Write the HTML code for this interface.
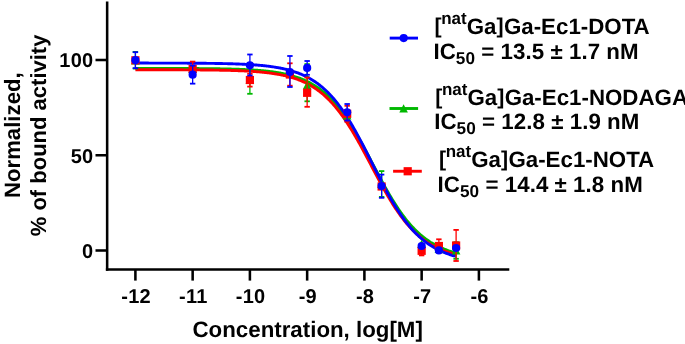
<!DOCTYPE html>
<html lang="en"><head><meta charset="utf-8"><title>IC50 curves</title>
<style>html,body{margin:0;padding:0;background:#fff}body{width:685px;height:344px;overflow:hidden}svg{display:block}svg text{font-family:"Liberation Sans",Arial,Helvetica,sans-serif;font-weight:bold;fill:#000}</style></head>
<body>
<svg width="685" height="344" viewBox="0 0 685 344" text-rendering="geometricPrecision">
<rect width="685" height="344" fill="#fff"/>
<polyline points="135.40,68.40 136.20,68.40 137.01,68.40 137.81,68.40 138.62,68.40 139.42,68.40 140.22,68.40 141.03,68.40 141.83,68.40 142.63,68.40 143.44,68.40 144.24,68.40 145.05,68.40 145.85,68.40 146.65,68.41 147.46,68.41 148.26,68.41 149.06,68.41 149.87,68.41 150.67,68.41 151.48,68.41 152.28,68.41 153.08,68.41 153.89,68.41 154.69,68.41 155.49,68.42 156.30,68.42 157.10,68.42 157.91,68.42 158.71,68.42 159.51,68.42 160.32,68.42 161.12,68.42 161.93,68.43 162.73,68.43 163.53,68.43 164.34,68.43 165.14,68.43 165.94,68.43 166.75,68.43 167.55,68.44 168.36,68.44 169.16,68.44 169.96,68.44 170.77,68.44 171.57,68.45 172.37,68.45 173.18,68.45 173.98,68.45 174.79,68.45 175.59,68.46 176.39,68.46 177.20,68.46 178.00,68.46 178.80,68.47 179.61,68.47 180.41,68.47 181.22,68.48 182.02,68.48 182.82,68.48 183.63,68.48 184.43,68.49 185.24,68.49 186.04,68.49 186.84,68.50 187.65,68.50 188.45,68.51 189.25,68.51 190.06,68.51 190.86,68.52 191.67,68.52 192.47,68.53 193.27,68.53 194.08,68.54 194.88,68.54 195.68,68.55 196.49,68.55 197.29,68.56 198.10,68.56 198.90,68.57 199.70,68.58 200.51,68.58 201.31,68.59 202.12,68.60 202.92,68.60 203.72,68.61 204.53,68.62 205.33,68.63 206.13,68.63 206.94,68.64 207.74,68.65 208.55,68.66 209.35,68.67 210.15,68.68 210.96,68.69 211.76,68.70 212.56,68.71 213.37,68.72 214.17,68.73 214.98,68.74 215.78,68.75 216.58,68.76 217.39,68.78 218.19,68.79 218.99,68.80 219.80,68.81 220.60,68.83 221.41,68.84 222.21,68.86 223.01,68.87 223.82,68.89 224.62,68.91 225.43,68.92 226.23,68.94 227.03,68.96 227.84,68.98 228.64,69.00 229.44,69.02 230.25,69.04 231.05,69.06 231.86,69.08 232.66,69.10 233.46,69.13 234.27,69.15 235.07,69.18 235.87,69.20 236.68,69.23 237.48,69.25 238.29,69.28 239.09,69.31 239.89,69.34 240.70,69.37 241.50,69.41 242.30,69.44 243.11,69.47 243.91,69.51 244.72,69.54 245.52,69.58 246.32,69.62 247.13,69.66 247.93,69.70 248.74,69.74 249.54,69.79 250.34,69.83 251.15,69.88 251.95,69.93 252.75,69.98 253.56,70.03 254.36,70.08 255.17,70.14 255.97,70.20 256.77,70.25 257.58,70.31 258.38,70.38 259.18,70.44 259.99,70.51 260.79,70.57 261.60,70.65 262.40,70.72 263.20,70.79 264.01,70.87 264.81,70.95 265.61,71.03 266.42,71.12 267.22,71.21 268.03,71.30 268.83,71.39 269.63,71.49 270.44,71.58 271.24,71.69 272.05,71.79 272.85,71.90 273.65,72.01 274.46,72.13 275.26,72.25 276.06,72.37 276.87,72.50 277.67,72.63 278.48,72.76 279.28,72.90 280.08,73.05 280.89,73.20 281.69,73.35 282.49,73.50 283.30,73.67 284.10,73.83 284.91,74.01 285.71,74.18 286.51,74.37 287.32,74.55 288.12,74.75 288.92,74.95 289.73,75.15 290.53,75.37 291.34,75.59 292.14,75.81 292.94,76.04 293.75,76.28 294.55,76.53 295.36,76.78 296.16,77.04 296.96,77.31 297.77,77.59 298.57,77.87 299.37,78.16 300.18,78.46 300.98,78.77 301.79,79.09 302.59,79.42 303.39,79.76 304.20,80.11 305.00,80.46 305.80,80.83 306.61,81.21 307.41,81.60 308.22,82.00 309.02,82.41 309.82,82.83 310.63,83.26 311.43,83.71 312.24,84.16 313.04,84.63 313.84,85.12 314.65,85.61 315.45,86.12 316.25,86.64 317.06,87.18 317.86,87.73 318.67,88.29 319.47,88.87 320.27,89.46 321.08,90.07 321.88,90.69 322.68,91.33 323.49,91.98 324.29,92.65 325.10,93.34 325.90,94.04 326.70,94.76 327.51,95.50 328.31,96.25 329.11,97.02 329.92,97.81 330.72,98.62 331.53,99.44 332.33,100.28 333.13,101.14 333.94,102.02 334.74,102.92 335.55,103.83 336.35,104.77 337.15,105.72 337.96,106.69 338.76,107.68 339.56,108.69 340.37,109.71 341.17,110.76 341.98,111.83 342.78,112.91 343.58,114.01 344.39,115.13 345.19,116.27 345.99,117.43 346.80,118.61 347.60,119.80 348.41,121.01 349.21,122.24 350.01,123.49 350.82,124.75 351.62,126.04 352.42,127.33 353.23,128.64 354.03,129.97 354.84,131.32 355.64,132.68 356.44,134.05 357.25,135.44 358.05,136.84 358.86,138.25 359.66,139.67 360.46,141.11 361.27,142.56 362.07,144.02 362.87,145.48 363.68,146.96 364.48,148.45 365.29,149.94 366.09,151.44 366.89,152.95 367.70,154.46 368.50,155.98 369.30,157.50 370.11,159.02 370.91,160.55 371.72,162.08 372.52,163.61 373.32,165.14 374.13,166.67 374.93,168.19 375.73,169.72 376.54,171.24 377.34,172.76 378.15,174.28 378.95,175.78 379.75,177.29 380.56,178.79 381.36,180.27 382.17,181.76 382.97,183.23 383.77,184.69 384.58,186.14 385.38,187.59 386.18,189.02 386.99,190.44 387.79,191.84 388.60,193.24 389.40,194.62 390.20,195.98 391.01,197.33 391.81,198.67 392.61,199.99 393.42,201.29 394.22,202.58 395.03,203.86 395.83,205.11 396.63,206.35 397.44,207.57 398.24,208.77 399.05,209.96 399.85,211.12 400.65,212.27 401.46,213.40 402.26,214.52 403.06,215.61 403.87,216.68 404.67,217.74 405.48,218.78 406.28,219.79 407.08,220.79 407.89,221.77 408.69,222.73 409.49,223.68 410.30,224.60 411.10,225.51 411.91,226.39 412.71,227.26 413.51,228.11 414.32,228.95 415.12,229.76 415.92,230.56 416.73,231.34 417.53,232.10 418.34,232.84 419.14,233.57 419.94,234.28 420.75,234.98 421.55,235.65 422.36,236.32 423.16,236.96 423.96,237.59 424.77,238.21 425.57,238.81 426.37,239.39 427.18,239.97 427.98,240.52 428.79,241.06 429.59,241.59 430.39,242.11 431.20,242.61 432.00,243.10 432.80,243.57 433.61,244.04 434.41,244.49 435.22,244.93 436.02,245.35 436.82,245.77 437.63,246.18 438.43,246.57 439.23,246.95 440.04,247.32 440.84,247.69 441.65,248.04 442.45,248.38 443.25,248.71 444.06,249.04 444.86,249.35 445.67,249.66 446.47,249.95 447.27,250.24 448.08,250.52 448.88,250.80 449.68,251.06 450.49,251.32 451.29,251.57 452.10,251.81 452.90,252.04 453.70,252.27 454.51,252.50 455.31,252.71 456.11,252.92" fill="none" stroke="#00b800" stroke-width="2.9" stroke-linejoin="round"/>
<polyline points="135.40,69.73 136.20,69.73 137.01,69.73 137.81,69.73 138.62,69.73 139.42,69.73 140.22,69.73 141.03,69.74 141.83,69.74 142.63,69.74 143.44,69.74 144.24,69.74 145.05,69.74 145.85,69.74 146.65,69.74 147.46,69.74 148.26,69.74 149.06,69.74 149.87,69.74 150.67,69.75 151.48,69.75 152.28,69.75 153.08,69.75 153.89,69.75 154.69,69.75 155.49,69.75 156.30,69.75 157.10,69.75 157.91,69.75 158.71,69.76 159.51,69.76 160.32,69.76 161.12,69.76 161.93,69.76 162.73,69.76 163.53,69.76 164.34,69.77 165.14,69.77 165.94,69.77 166.75,69.77 167.55,69.77 168.36,69.78 169.16,69.78 169.96,69.78 170.77,69.78 171.57,69.78 172.37,69.79 173.18,69.79 173.98,69.79 174.79,69.79 175.59,69.80 176.39,69.80 177.20,69.80 178.00,69.80 178.80,69.81 179.61,69.81 180.41,69.81 181.22,69.82 182.02,69.82 182.82,69.82 183.63,69.83 184.43,69.83 185.24,69.83 186.04,69.84 186.84,69.84 187.65,69.84 188.45,69.85 189.25,69.85 190.06,69.86 190.86,69.86 191.67,69.87 192.47,69.87 193.27,69.88 194.08,69.88 194.88,69.89 195.68,69.89 196.49,69.90 197.29,69.90 198.10,69.91 198.90,69.92 199.70,69.92 200.51,69.93 201.31,69.94 202.12,69.94 202.92,69.95 203.72,69.96 204.53,69.97 205.33,69.98 206.13,69.98 206.94,69.99 207.74,70.00 208.55,70.01 209.35,70.02 210.15,70.03 210.96,70.04 211.76,70.05 212.56,70.06 213.37,70.07 214.17,70.08 214.98,70.10 215.78,70.11 216.58,70.12 217.39,70.14 218.19,70.15 218.99,70.16 219.80,70.18 220.60,70.19 221.41,70.21 222.21,70.22 223.01,70.24 223.82,70.26 224.62,70.27 225.43,70.29 226.23,70.31 227.03,70.33 227.84,70.35 228.64,70.37 229.44,70.39 230.25,70.41 231.05,70.44 231.86,70.46 232.66,70.48 233.46,70.51 234.27,70.54 235.07,70.56 235.87,70.59 236.68,70.62 237.48,70.65 238.29,70.68 239.09,70.71 239.89,70.74 240.70,70.77 241.50,70.81 242.30,70.84 243.11,70.88 243.91,70.92 244.72,70.96 245.52,71.00 246.32,71.04 247.13,71.08 247.93,71.12 248.74,71.17 249.54,71.22 250.34,71.26 251.15,71.31 251.95,71.37 252.75,71.42 253.56,71.47 254.36,71.53 255.17,71.59 255.97,71.65 256.77,71.71 257.58,71.78 258.38,71.84 259.18,71.91 259.99,71.98 260.79,72.05 261.60,72.13 262.40,72.21 263.20,72.29 264.01,72.37 264.81,72.45 265.61,72.54 266.42,72.63 267.22,72.73 268.03,72.82 268.83,72.92 269.63,73.02 270.44,73.13 271.24,73.24 272.05,73.35 272.85,73.47 273.65,73.59 274.46,73.71 275.26,73.84 276.06,73.97 276.87,74.10 277.67,74.24 278.48,74.39 279.28,74.53 280.08,74.69 280.89,74.84 281.69,75.01 282.49,75.17 283.30,75.35 284.10,75.52 284.91,75.71 285.71,75.89 286.51,76.09 287.32,76.29 288.12,76.49 288.92,76.71 289.73,76.93 290.53,77.15 291.34,77.38 292.14,77.62 292.94,77.87 293.75,78.12 294.55,78.38 295.36,78.65 296.16,78.93 296.96,79.21 297.77,79.51 298.57,79.81 299.37,80.12 300.18,80.44 300.98,80.77 301.79,81.10 302.59,81.45 303.39,81.81 304.20,82.18 305.00,82.55 305.80,82.94 306.61,83.34 307.41,83.75 308.22,84.18 309.02,84.61 309.82,85.05 310.63,85.51 311.43,85.98 312.24,86.47 313.04,86.96 313.84,87.47 314.65,87.99 315.45,88.53 316.25,89.08 317.06,89.64 317.86,90.22 318.67,90.81 319.47,91.42 320.27,92.04 321.08,92.68 321.88,93.34 322.68,94.01 323.49,94.70 324.29,95.40 325.10,96.12 325.90,96.86 326.70,97.61 327.51,98.38 328.31,99.17 329.11,99.97 329.92,100.80 330.72,101.64 331.53,102.50 332.33,103.38 333.13,104.28 333.94,105.19 334.74,106.12 335.55,107.08 336.35,108.05 337.15,109.04 337.96,110.05 338.76,111.08 339.56,112.12 340.37,113.19 341.17,114.27 341.98,115.37 342.78,116.50 343.58,117.63 344.39,118.79 345.19,119.97 345.99,121.16 346.80,122.38 347.60,123.60 348.41,124.85 349.21,126.12 350.01,127.40 350.82,128.69 351.62,130.00 352.42,131.33 353.23,132.68 354.03,134.03 354.84,135.41 355.64,136.79 356.44,138.19 357.25,139.61 358.05,141.03 358.86,142.47 359.66,143.91 360.46,145.37 361.27,146.84 362.07,148.31 362.87,149.80 363.68,151.29 364.48,152.79 365.29,154.29 366.09,155.81 366.89,157.32 367.70,158.84 368.50,160.36 369.30,161.89 370.11,163.42 370.91,164.95 371.72,166.47 372.52,168.00 373.32,169.53 374.13,171.05 374.93,172.57 375.73,174.09 376.54,175.60 377.34,177.11 378.15,178.61 378.95,180.11 379.75,181.59 380.56,183.07 381.36,184.54 382.17,186.00 382.97,187.46 383.77,188.90 384.58,190.32 385.38,191.74 386.18,193.14 386.99,194.54 387.79,195.91 388.60,197.28 389.40,198.63 390.20,199.96 391.01,201.28 391.81,202.58 392.61,203.87 393.42,205.14 394.22,206.39 395.03,207.63 395.83,208.84 396.63,210.04 397.44,211.23 398.24,212.39 399.05,213.54 399.85,214.67 400.65,215.78 401.46,216.87 402.26,217.94 403.06,218.99 403.87,220.03 404.67,221.04 405.48,222.04 406.28,223.02 407.08,223.98 407.89,224.92 408.69,225.84 409.49,226.74 410.30,227.63 411.10,228.49 411.91,229.34 412.71,230.17 413.51,230.99 414.32,231.78 415.12,232.56 415.92,233.32 416.73,234.06 417.53,234.79 418.34,235.50 419.14,236.19 419.94,236.87 420.75,237.53 421.55,238.17 422.36,238.80 423.16,239.41 423.96,240.01 424.77,240.60 425.57,241.16 426.37,241.72 427.18,242.26 427.98,242.79 428.79,243.30 429.59,243.80 430.39,244.29 431.20,244.76 432.00,245.23 432.80,245.68 433.61,246.11 434.41,246.54 435.22,246.95 436.02,247.36 436.82,247.75 437.63,248.13 438.43,248.50 439.23,248.86 440.04,249.22 440.84,249.56 441.65,249.89 442.45,250.21 443.25,250.53 444.06,250.83 444.86,251.13 445.67,251.41 446.47,251.69 447.27,251.97 448.08,252.23 448.88,252.49 449.68,252.73 450.49,252.98 451.29,253.21 452.10,253.44 452.90,253.66 453.70,253.87 454.51,254.08 455.31,254.28 456.11,254.48" fill="none" stroke="#ff0000" stroke-width="2.9" stroke-linejoin="round"/>
<polyline points="135.40,63.06 136.20,63.06 137.01,63.07 137.81,63.07 138.62,63.07 139.42,63.07 140.22,63.07 141.03,63.07 141.83,63.07 142.63,63.07 143.44,63.07 144.24,63.07 145.05,63.07 145.85,63.07 146.65,63.07 147.46,63.07 148.26,63.07 149.06,63.08 149.87,63.08 150.67,63.08 151.48,63.08 152.28,63.08 153.08,63.08 153.89,63.08 154.69,63.08 155.49,63.08 156.30,63.09 157.10,63.09 157.91,63.09 158.71,63.09 159.51,63.09 160.32,63.09 161.12,63.09 161.93,63.09 162.73,63.10 163.53,63.10 164.34,63.10 165.14,63.10 165.94,63.10 166.75,63.10 167.55,63.11 168.36,63.11 169.16,63.11 169.96,63.11 170.77,63.11 171.57,63.12 172.37,63.12 173.18,63.12 173.98,63.12 174.79,63.13 175.59,63.13 176.39,63.13 177.20,63.13 178.00,63.14 178.80,63.14 179.61,63.14 180.41,63.14 181.22,63.15 182.02,63.15 182.82,63.15 183.63,63.16 184.43,63.16 185.24,63.17 186.04,63.17 186.84,63.17 187.65,63.18 188.45,63.18 189.25,63.19 190.06,63.19 190.86,63.19 191.67,63.20 192.47,63.20 193.27,63.21 194.08,63.21 194.88,63.22 195.68,63.23 196.49,63.23 197.29,63.24 198.10,63.24 198.90,63.25 199.70,63.26 200.51,63.26 201.31,63.27 202.12,63.28 202.92,63.29 203.72,63.29 204.53,63.30 205.33,63.31 206.13,63.32 206.94,63.33 207.74,63.34 208.55,63.34 209.35,63.35 210.15,63.36 210.96,63.37 211.76,63.39 212.56,63.40 213.37,63.41 214.17,63.42 214.98,63.43 215.78,63.44 216.58,63.46 217.39,63.47 218.19,63.48 218.99,63.50 219.80,63.51 220.60,63.53 221.41,63.54 222.21,63.56 223.01,63.58 223.82,63.59 224.62,63.61 225.43,63.63 226.23,63.65 227.03,63.67 227.84,63.69 228.64,63.71 229.44,63.73 230.25,63.75 231.05,63.77 231.86,63.80 232.66,63.82 233.46,63.85 234.27,63.87 235.07,63.90 235.87,63.93 236.68,63.96 237.48,63.98 238.29,64.01 239.09,64.05 239.89,64.08 240.70,64.11 241.50,64.15 242.30,64.18 243.11,64.22 243.91,64.26 244.72,64.30 245.52,64.34 246.32,64.38 247.13,64.42 247.93,64.46 248.74,64.51 249.54,64.56 250.34,64.61 251.15,64.66 251.95,64.71 252.75,64.76 253.56,64.82 254.36,64.87 255.17,64.93 255.97,64.99 256.77,65.06 257.58,65.12 258.38,65.19 259.18,65.26 259.99,65.33 260.79,65.40 261.60,65.48 262.40,65.55 263.20,65.63 264.01,65.72 264.81,65.80 265.61,65.89 266.42,65.98 267.22,66.08 268.03,66.17 268.83,66.27 269.63,66.38 270.44,66.48 271.24,66.59 272.05,66.71 272.85,66.82 273.65,66.94 274.46,67.07 275.26,67.20 276.06,67.33 276.87,67.46 277.67,67.60 278.48,67.75 279.28,67.90 280.08,68.05 280.89,68.21 281.69,68.37 282.49,68.54 283.30,68.72 284.10,68.89 284.91,69.08 285.71,69.27 286.51,69.47 287.32,69.67 288.12,69.88 288.92,70.09 289.73,70.31 290.53,70.54 291.34,70.77 292.14,71.01 292.94,71.26 293.75,71.52 294.55,71.78 295.36,72.05 296.16,72.33 296.96,72.62 297.77,72.91 298.57,73.22 299.37,73.53 300.18,73.85 300.98,74.19 301.79,74.53 302.59,74.88 303.39,75.24 304.20,75.61 305.00,75.99 305.80,76.39 306.61,76.79 307.41,77.21 308.22,77.63 309.02,78.07 309.82,78.52 310.63,78.99 311.43,79.46 312.24,79.95 313.04,80.45 313.84,80.97 314.65,81.50 315.45,82.04 316.25,82.60 317.06,83.17 317.86,83.76 318.67,84.36 319.47,84.98 320.27,85.61 321.08,86.26 321.88,86.92 322.68,87.60 323.49,88.30 324.29,89.02 325.10,89.75 325.90,90.50 326.70,91.26 327.51,92.05 328.31,92.85 329.11,93.67 329.92,94.51 330.72,95.37 331.53,96.25 332.33,97.14 333.13,98.06 333.94,98.99 334.74,99.95 335.55,100.92 336.35,101.91 337.15,102.92 337.96,103.96 338.76,105.01 339.56,106.08 340.37,107.17 341.17,108.28 341.98,109.41 342.78,110.56 343.58,111.73 344.39,112.92 345.19,114.13 345.99,115.35 346.80,116.60 347.60,117.86 348.41,119.15 349.21,120.45 350.01,121.77 350.82,123.11 351.62,124.46 352.42,125.83 353.23,127.22 354.03,128.62 354.84,130.04 355.64,131.47 356.44,132.92 357.25,134.38 358.05,135.86 358.86,137.35 359.66,138.85 360.46,140.36 361.27,141.89 362.07,143.42 362.87,144.97 363.68,146.52 364.48,148.08 365.29,149.65 366.09,151.23 366.89,152.81 367.70,154.40 368.50,155.99 369.30,157.58 370.11,159.18 370.91,160.78 371.72,162.38 372.52,163.98 373.32,165.59 374.13,167.19 374.93,168.78 375.73,170.38 376.54,171.97 377.34,173.56 378.15,175.14 378.95,176.71 379.75,178.28 380.56,179.84 381.36,181.40 382.17,182.94 382.97,184.47 383.77,186.00 384.58,187.51 385.38,189.01 386.18,190.50 386.99,191.97 387.79,193.44 388.60,194.88 389.40,196.32 390.20,197.74 391.01,199.14 391.81,200.52 392.61,201.89 393.42,203.25 394.22,204.58 395.03,205.90 395.83,207.20 396.63,208.48 397.44,209.75 398.24,210.99 399.05,212.22 399.85,213.42 400.65,214.61 401.46,215.78 402.26,216.93 403.06,218.06 403.87,219.17 404.67,220.26 405.48,221.33 406.28,222.38 407.08,223.41 407.89,224.42 408.69,225.41 409.49,226.38 410.30,227.34 411.10,228.27 411.91,229.18 412.71,230.08 413.51,230.95 414.32,231.81 415.12,232.65 415.92,233.47 416.73,234.27 417.53,235.05 418.34,235.82 419.14,236.57 419.94,237.30 420.75,238.01 421.55,238.71 422.36,239.39 423.16,240.05 423.96,240.70 424.77,241.33 425.57,241.95 426.37,242.55 427.18,243.14 427.98,243.71 428.79,244.26 429.59,244.81 430.39,245.33 431.20,245.85 432.00,246.35 432.80,246.84 433.61,247.31 434.41,247.78 435.22,248.23 436.02,248.66 436.82,249.09 437.63,249.51 438.43,249.91 439.23,250.30 440.04,250.68 440.84,251.05 441.65,251.41 442.45,251.77 443.25,252.11 444.06,252.44 444.86,252.76 445.67,253.07 446.47,253.38 447.27,253.67 448.08,253.96 448.88,254.24 449.68,254.51 450.49,254.77 451.29,255.03 452.10,255.28 452.90,255.52 453.70,255.75 454.51,255.98 455.31,256.20 456.11,256.41" fill="none" stroke="#0000ff" stroke-width="2.9" stroke-linejoin="round"/>
<path d="M135.40,51.90V68.50" stroke="#00b800" stroke-width="1.3" fill="none"/><path d="M132.70,51.90H138.10" stroke="#00b800" stroke-width="1.8" fill="none"/><path d="M132.70,68.50H138.10" stroke="#00b800" stroke-width="1.8" fill="none"/>
<path d="M135.40,56.10L139.70,64.40H131.10Z" fill="#00b800"/>
<path d="M192.65,64.80L196.95,73.10H188.35Z" fill="#00b800"/>
<path d="M249.90,66.00V93.80" stroke="#00b800" stroke-width="1.3" fill="none"/><path d="M247.20,66.00H252.60" stroke="#00b800" stroke-width="1.8" fill="none"/><path d="M247.20,93.80H252.60" stroke="#00b800" stroke-width="1.8" fill="none"/>
<path d="M249.90,75.80L254.20,84.10H245.60Z" fill="#00b800"/>
<path d="M289.92,68.80L294.22,77.10H285.62Z" fill="#00b800"/>
<path d="M307.15,64.10V101.30" stroke="#00b800" stroke-width="1.3" fill="none"/><path d="M304.45,64.10H309.85" stroke="#00b800" stroke-width="1.8" fill="none"/><path d="M304.45,101.30H309.85" stroke="#00b800" stroke-width="1.8" fill="none"/>
<path d="M307.15,81.00L311.45,89.30H302.85Z" fill="#00b800"/>
<path d="M347.17,111.30L351.47,119.60H342.87Z" fill="#00b800"/>
<path d="M381.63,171.10V196.90" stroke="#00b800" stroke-width="1.3" fill="none"/><path d="M378.93,171.10H384.33" stroke="#00b800" stroke-width="1.8" fill="none"/><path d="M378.93,196.90H384.33" stroke="#00b800" stroke-width="1.8" fill="none"/>
<path d="M381.63,179.80L385.93,188.10H377.33Z" fill="#00b800"/>
<path d="M421.65,239.80L425.95,248.10H417.35Z" fill="#00b800"/>
<path d="M438.88,244.80L443.18,253.10H434.58Z" fill="#00b800"/>
<path d="M456.11,242.20V258.80" stroke="#00b800" stroke-width="1.3" fill="none"/><path d="M453.41,242.20H458.81" stroke="#00b800" stroke-width="1.8" fill="none"/><path d="M453.41,258.80H458.81" stroke="#00b800" stroke-width="1.8" fill="none"/>
<path d="M456.11,246.30L460.41,254.60H451.81Z" fill="#00b800"/>
<rect x="131.30" y="56.20" width="8.2" height="8.2" fill="#ff0000"/>
<path d="M192.65,61.60V76.40" stroke="#ff0000" stroke-width="1.3" fill="none"/><path d="M189.95,61.60H195.35" stroke="#ff0000" stroke-width="1.8" fill="none"/><path d="M189.95,76.40H195.35" stroke="#ff0000" stroke-width="1.8" fill="none"/>
<rect x="188.55" y="64.90" width="8.2" height="8.2" fill="#ff0000"/>
<path d="M249.90,73.80V86.60" stroke="#ff0000" stroke-width="1.3" fill="none"/><path d="M247.20,73.80H252.60" stroke="#ff0000" stroke-width="1.8" fill="none"/><path d="M247.20,86.60H252.60" stroke="#ff0000" stroke-width="1.8" fill="none"/>
<rect x="245.80" y="75.90" width="8.2" height="8.2" fill="#ff0000"/>
<path d="M289.92,63.30V85.70" stroke="#ff0000" stroke-width="1.3" fill="none"/><path d="M287.22,63.30H292.62" stroke="#ff0000" stroke-width="1.8" fill="none"/><path d="M287.22,85.70H292.62" stroke="#ff0000" stroke-width="1.8" fill="none"/>
<rect x="285.82" y="70.40" width="8.2" height="8.2" fill="#ff0000"/>
<path d="M307.15,77.60V106.80" stroke="#ff0000" stroke-width="1.3" fill="none"/><path d="M304.45,77.60H309.85" stroke="#ff0000" stroke-width="1.8" fill="none"/><path d="M304.45,106.80H309.85" stroke="#ff0000" stroke-width="1.8" fill="none"/>
<rect x="303.05" y="88.70" width="8.2" height="8.2" fill="#ff0000"/>
<path d="M347.17,105.80V121.80" stroke="#ff0000" stroke-width="1.3" fill="none"/><path d="M344.47,105.80H349.87" stroke="#ff0000" stroke-width="1.8" fill="none"/><path d="M344.47,121.80H349.87" stroke="#ff0000" stroke-width="1.8" fill="none"/>
<rect x="343.07" y="109.70" width="8.2" height="8.2" fill="#ff0000"/>
<rect x="377.53" y="182.40" width="8.2" height="8.2" fill="#ff0000"/>
<path d="M421.65,246.00V255.40" stroke="#ff0000" stroke-width="1.3" fill="none"/><path d="M418.95,246.00H424.35" stroke="#ff0000" stroke-width="1.8" fill="none"/><path d="M418.95,255.40H424.35" stroke="#ff0000" stroke-width="1.8" fill="none"/>
<rect x="417.55" y="246.70" width="8.2" height="8.2" fill="#ff0000"/>
<path d="M438.88,239.30V252.70" stroke="#ff0000" stroke-width="1.3" fill="none"/><path d="M436.18,239.30H441.58" stroke="#ff0000" stroke-width="1.8" fill="none"/><path d="M436.18,252.70H441.58" stroke="#ff0000" stroke-width="1.8" fill="none"/>
<rect x="434.78" y="241.90" width="8.2" height="8.2" fill="#ff0000"/>
<path d="M456.11,229.90V261.00" stroke="#ff0000" stroke-width="1.3" fill="none"/><path d="M453.41,229.90H458.81" stroke="#ff0000" stroke-width="1.8" fill="none"/><path d="M453.41,261.00H458.81" stroke="#ff0000" stroke-width="1.8" fill="none"/>
<rect x="452.01" y="241.40" width="8.2" height="8.2" fill="#ff0000"/>
<path d="M135.40,52.20V68.20" stroke="#0000ff" stroke-width="1.3" fill="none"/><path d="M132.70,52.20H138.10" stroke="#0000ff" stroke-width="1.8" fill="none"/><path d="M132.70,68.20H138.10" stroke="#0000ff" stroke-width="1.8" fill="none"/>
<circle cx="135.40" cy="60.20" r="4.1" fill="#0000ff"/>
<path d="M192.65,65.65V83.65" stroke="#0000ff" stroke-width="1.3" fill="none"/><path d="M189.95,65.65H195.35" stroke="#0000ff" stroke-width="1.8" fill="none"/><path d="M189.95,83.65H195.35" stroke="#0000ff" stroke-width="1.8" fill="none"/>
<circle cx="192.65" cy="74.65" r="4.1" fill="#0000ff"/>
<path d="M249.90,54.50V75.50" stroke="#0000ff" stroke-width="1.3" fill="none"/><path d="M247.20,54.50H252.60" stroke="#0000ff" stroke-width="1.8" fill="none"/><path d="M247.20,75.50H252.60" stroke="#0000ff" stroke-width="1.8" fill="none"/>
<circle cx="249.90" cy="65.30" r="4.1" fill="#0000ff"/>
<path d="M289.92,56.00V87.00" stroke="#0000ff" stroke-width="1.3" fill="none"/><path d="M287.22,56.00H292.62" stroke="#0000ff" stroke-width="1.8" fill="none"/><path d="M287.22,87.00H292.62" stroke="#0000ff" stroke-width="1.8" fill="none"/>
<circle cx="289.92" cy="72.00" r="4.1" fill="#0000ff"/>
<path d="M307.15,61.00V74.80" stroke="#0000ff" stroke-width="1.3" fill="none"/><path d="M304.45,61.00H309.85" stroke="#0000ff" stroke-width="1.8" fill="none"/><path d="M304.45,74.80H309.85" stroke="#0000ff" stroke-width="1.8" fill="none"/>
<circle cx="307.15" cy="67.90" r="4.1" fill="#0000ff"/>
<path d="M347.17,104.00V120.60" stroke="#0000ff" stroke-width="1.3" fill="none"/><path d="M344.47,104.00H349.87" stroke="#0000ff" stroke-width="1.8" fill="none"/><path d="M344.47,120.60H349.87" stroke="#0000ff" stroke-width="1.8" fill="none"/>
<circle cx="347.17" cy="112.30" r="4.1" fill="#0000ff"/>
<path d="M381.63,174.60V197.80" stroke="#0000ff" stroke-width="1.3" fill="none"/><path d="M378.93,174.60H384.33" stroke="#0000ff" stroke-width="1.8" fill="none"/><path d="M378.93,197.80H384.33" stroke="#0000ff" stroke-width="1.8" fill="none"/>
<circle cx="381.63" cy="186.00" r="4.1" fill="#0000ff"/>
<circle cx="421.65" cy="246.00" r="4.1" fill="#0000ff"/>
<circle cx="438.88" cy="250.40" r="4.1" fill="#0000ff"/>
<circle cx="456.11" cy="248.00" r="4.1" fill="#0000ff"/>
<path d="M107.15,1.6V270.77" stroke="#000000" stroke-width="2.55" fill="none"/>
<path d="M105.88,269.5H509.3" stroke="#000000" stroke-width="2.55" fill="none"/>
<path d="M95.5,250.50H107.15" stroke="#000000" stroke-width="2.55" fill="none"/>
<path d="M95.5,155.25H107.15" stroke="#000000" stroke-width="2.55" fill="none"/>
<path d="M95.5,60.00H107.15" stroke="#000000" stroke-width="2.55" fill="none"/>
<path d="M135.40,269.5V280.6" stroke="#000000" stroke-width="2.55" fill="none"/>
<path d="M192.65,269.5V280.6" stroke="#000000" stroke-width="2.55" fill="none"/>
<path d="M249.90,269.5V280.6" stroke="#000000" stroke-width="2.55" fill="none"/>
<path d="M307.15,269.5V280.6" stroke="#000000" stroke-width="2.55" fill="none"/>
<path d="M364.40,269.5V280.6" stroke="#000000" stroke-width="2.55" fill="none"/>
<path d="M421.65,269.5V280.6" stroke="#000000" stroke-width="2.55" fill="none"/>
<path d="M478.90,269.5V280.6" stroke="#000000" stroke-width="2.55" fill="none"/>
<path d="M389.7,38.1H418.0" stroke="#0000ff" stroke-width="2.9" fill="none"/><circle cx="403.70" cy="38.10" r="4.1" fill="#0000ff"/>
<path d="M389.5,108.5H418.1" stroke="#00b800" stroke-width="2.9" fill="none"/><path d="M403.60,104.30L407.90,112.60H399.30Z" fill="#00b800"/>
<path d="M393.1,171.25H421.8" stroke="#ff0000" stroke-width="2.9" fill="none"/><rect x="403.60" y="167.15" width="8.2" height="8.2" fill="#ff0000"/>
<g style="opacity:0.999">
<text x="93.5" y="257.80" font-size="20" letter-spacing="0.3" text-anchor="end">0</text>
<text x="93.5" y="162.55" font-size="20" letter-spacing="0.3" text-anchor="end">50</text>
<text x="93.5" y="67.30" font-size="20" letter-spacing="0.3" text-anchor="end">100</text>
<text x="136.10" y="303.3" font-size="20" letter-spacing="0.3" text-anchor="middle">-12</text>
<text x="193.35" y="303.3" font-size="20" letter-spacing="0.3" text-anchor="middle">-11</text>
<text x="250.60" y="303.3" font-size="20" letter-spacing="0.3" text-anchor="middle">-10</text>
<text x="307.85" y="303.3" font-size="20" letter-spacing="0.3" text-anchor="middle">-9</text>
<text x="365.10" y="303.3" font-size="20" letter-spacing="0.3" text-anchor="middle">-8</text>
<text x="422.35" y="303.3" font-size="20" letter-spacing="0.3" text-anchor="middle">-7</text>
<text x="479.60" y="303.3" font-size="20" letter-spacing="0.3" text-anchor="middle">-6</text>
<text x="307.7" y="336.5" font-size="22.3" text-anchor="middle">Concentration, log[M]</text>
<text transform="translate(20,135.2) rotate(-90)" font-size="22.2" text-anchor="middle">Normalized,</text>
<text transform="translate(45.8,135.4) rotate(-90)" font-size="22" text-anchor="middle">% of bound activity</text>
<text x="434.5" y="33.9" font-size="22.3"><tspan font-size="21.3" dy="-0.9">[</tspan><tspan font-size="17" dx="-0.4" dy="-9.5">nat</tspan><tspan dy="10.4">Ga</tspan><tspan font-size="21.3" dy="-0.9">]</tspan><tspan dy="0.9" dx="0.4">Ga-Ec1-DOTA</tspan></text>
<text x="433.4" y="59.1" font-size="22.3" letter-spacing="0.05">IC<tspan font-size="17.2" dy="4.7">50</tspan><tspan dy="-4.7"> = 13.5 ± 1.7 nM</tspan></text>
<text x="435.2" y="104.9" font-size="22.3"><tspan font-size="21.3" dy="-0.9">[</tspan><tspan font-size="17" dx="-0.4" dy="-9.5">nat</tspan><tspan dy="10.4">Ga</tspan><tspan font-size="21.3" dy="-0.9">]</tspan><tspan dy="0.9" dx="0.4">Ga-Ec1-NODAGA</tspan></text>
<text x="434.15" y="128.8" font-size="22.3" letter-spacing="0.05">IC<tspan font-size="17.2" dy="4.7">50</tspan><tspan dy="-4.7"> = 12.8 ± 1.9 nM</tspan></text>
<text x="439.0" y="167.3" font-size="22.3"><tspan font-size="21.3" dy="-0.9">[</tspan><tspan font-size="17" dx="-0.4" dy="-9.5">nat</tspan><tspan dy="10.4">Ga</tspan><tspan font-size="21.3" dy="-0.9">]</tspan><tspan dy="0.9" dx="0.4">Ga-Ec1-NOTA</tspan></text>
<text x="437.55" y="191.8" font-size="22.3" letter-spacing="0.05">IC<tspan font-size="17.2" dy="4.7">50</tspan><tspan dy="-4.7"> = 14.4 ± 1.8 nM</tspan></text>
</g>
</svg>
</body></html>
